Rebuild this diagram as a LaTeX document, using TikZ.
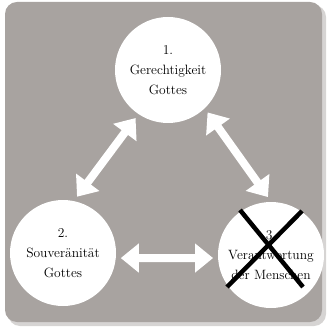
\documentclass[tikz,border=0pt]{standalone}
\usepackage{fontspec}
\usetikzlibrary{arrows.meta}

\tikzset{
	pillar/.style={circle, fill=white, minimum size=106pt, inner sep=0pt, outer sep=5pt,
		align=center, font=\fontsize{13.5}{20}\selectfont},
	link/.style={draw=white, line width=8pt, {Triangle[width=28pt,length=18pt]}-{Triangle[width=28pt,length=18pt]}},
	strike/.style={draw=black, line width=4.5pt}
}

\begin{document}
\begin{tikzpicture}[x=1pt, y=-1pt]
		
		\useasboundingbox (0,0) rectangle (327,328);
		\fill[rounded corners=12pt, fill={rgb,255:red,214;green,212;blue,211}] (8,5) rectangle (326,326);
		\fill[rounded corners=12pt, fill={rgb,255:red,168;green,163;blue,160}] (5,2) rectangle (322,322);
		
		\node[pillar] (1) at (168,70) {1.\\Gerechtigkeit\\Gottes};
		\node[pillar] (2) at (63,253) {2.\\Souveränität\\Gottes};
		\node[pillar] (3) at (271,255) {3.\\Verantwortung\\der Menschen};
		
		\draw[link] (2.76) -- (1.236);
		\draw[link] (1.313) -- (3.93);
		\draw[link] (2.-5) -- (3.183);
		
		% gestrichen
		\draw[strike] (240,210) -- (303,287);
		\draw[strike] (302,211) -- (227,287);
		
		\end{tikzpicture}
\end{document}
